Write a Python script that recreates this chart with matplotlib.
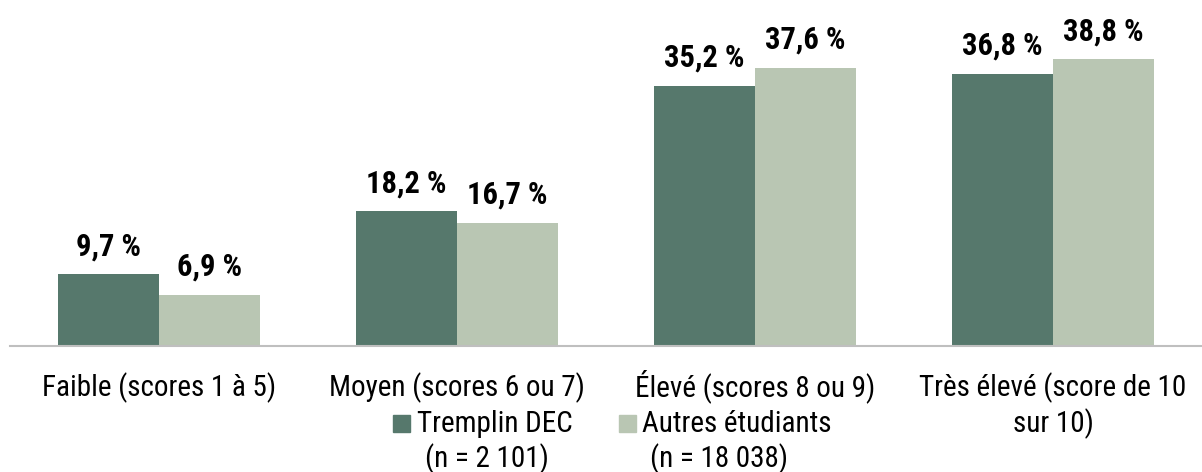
import numpy as np
import matplotlib
matplotlib.use("Agg")
import matplotlib.pyplot as plt
from matplotlib.patches import Rectangle
from matplotlib.transforms import blended_transform_factory

categories = ["Faible (scores 1 à 5)", "Moyen (scores 6 ou 7)",
              "Élevé (scores 8 ou 9)", "Très élevé (score de 10\nsur 10)"]
tremplin = [9.7, 18.2, 35.2, 36.8]
autres = [6.9, 16.7, 37.6, 38.8]
series_names = ["Tremplin DEC", "Autres étudiants"]
series_n = ["(n = 2 101)", "(n = 18 038)"]

dark = "#56786C"
light = "#B9C6B3"
plt.rcParams["font.family"] = ["Roboto Condensed", "DejaVu Sans"]
FS = 21
FSB = 22

W, H = 1202, 472
fig = plt.figure(figsize=(W / 100, H / 100), dpi=100)
ax = fig.add_axes([10 / W, (H - 346) / H, 1192 / W, 346 / H])


def fy(py):
    return 1 - py / H


x = np.arange(len(categories))
bw = 0.34
b1 = ax.bar(x - bw / 2, tremplin, bw, color=dark)
b2 = ax.bar(x + bw / 2, autres, bw, color=light)

for bars, vals in [(b1, tremplin), (b2, autres)]:
    for r, v in zip(bars, vals):
        ax.annotate(f"{v:.1f} %".replace(".", ","),
                    (r.get_x() + r.get_width() / 2, v),
                    xytext=(0, 13.7), textcoords="offset points",
                    ha="center", va="baseline", fontsize=FSB, fontweight="bold")

ax.set_xlim(-0.5, 3.5)
ax.set_ylim(0, 46.8)
ax.set_yticks([])
ax.set_xticks([])
for s in ["top", "right", "left"]:
    ax.spines[s].set_visible(False)
ax.spines["bottom"].set_color("#BFBFBF")
ax.spines["bottom"].set_linewidth(1.5)

# category labels, one line at a time on fixed baselines
tr = blended_transform_factory(ax.transData, fig.transFigure)
for xi, lab in zip(x, categories):
    for k, line in enumerate(lab.split("\n")):
        ax.text(xi, fy(396 + 36 * k), line, transform=tr, ha="center",
                va="baseline", fontsize=FS, clip_on=False)

# legend, drawn by hand to keep the n on a second centred line
leg = [(393, 417, 487, dark), (619, 642, 719, light)]
for (sx, tx, nx, c), name, n in zip(leg, series_names, series_n):
    fig.patches.append(Rectangle((sx / W, fy(432)), 17 / W, 17 / H,
                                 transform=fig.transFigure, color=c))
    fig.text(tx / W, fy(432), name, fontsize=FS, va="baseline", ha="left")
    fig.text(nx / W, fy(467), n, fontsize=FS, va="baseline", ha="center")

fig.savefig("out.png", dpi=100)
